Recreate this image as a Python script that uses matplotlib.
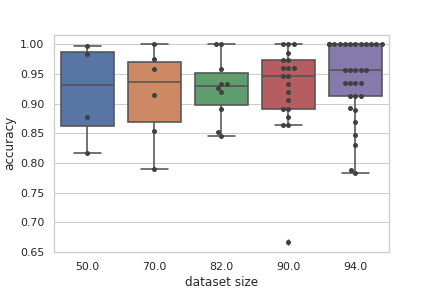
import numpy as np
import pandas as pd
import matplotlib
matplotlib.use("Agg")
import matplotlib.pyplot as plt
import seaborn as sns

# accuracy per dataset size
acc_50 = [0.997, 0.984, 0.878, 0.817]
acc_70 = [1.0, 0.975, 0.959, 0.915, 0.854, 0.790]
acc_82 = [1.0, 1.0, 0.959, 0.933, 0.933, 0.926, 0.919, 0.892, 0.852, 0.845]
acc_90 = [1.0, 1.0, 1.0, 0.986, 0.973, 0.973, 0.960, 0.960, 0.960,
          0.946, 0.946, 0.933, 0.919, 0.906, 0.892, 0.892, 0.878,
          0.865, 0.865, 0.667]
acc_94 = [1.0] * 12 + [0.957] * 5 + [0.935] * 4 + [0.913] * 3 + \
         [0.893, 0.890, 0.870, 0.848, 0.830, 0.788, 0.784]

sizes = [50.0, 70.0, 82.0, 90.0, 94.0]
groups = [acc_50, acc_70, acc_82, acc_90, acc_94]
yticks = [0.65, 0.70, 0.75, 0.80, 0.85, 0.90, 0.95, 1.00]

rows = []
for s, g in zip(sizes, groups):
    for a in g:
        rows.append({"dataset size": s, "accuracy": a})
df = pd.DataFrame(rows)

sns.set_theme(style="whitegrid")

fig, ax = plt.subplots(figsize=(6, 4), dpi=72)
fig.subplots_adjust(bottom=0.125)

sns.boxplot(data=df, x="dataset size", y="accuracy", hue="dataset size",
            palette="deep", legend=False, ax=ax, linewidth=1.6,
            linecolor="0.33", saturation=0.75,
            flierprops={"marker": "d", "markersize": 4,
                        "markerfacecolor": "0.33", "markeredgecolor": "0.33"})
sns.swarmplot(data=df, x="dataset size", y="accuracy", color=".25", ax=ax)

ax.set_xticks(range(len(sizes)))
ax.set_xticklabels([str(s) for s in sizes])
ax.set_yticks(yticks)
ax.set_ylim(0.65, 1.0167)

fig.savefig("out.png")
